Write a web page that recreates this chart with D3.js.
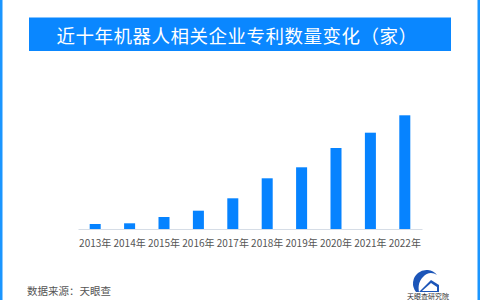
<!DOCTYPE html>
<html>
<head>
<meta charset="utf-8">
<script src="https://cdn.jsdelivr.net/npm/d3@7"></script>
<style>
  body { margin: 0; background: #fff; }
  svg { display: block; }
</style>
</head>
<body>
<div id="chart"></div>
<script>
var years = ["2013年", "2014年", "2015年", "2016年", "2017年", "2018年", "2019年", "2020年", "2021年", "2022年"];
// relative counts
var counts = [50, 57, 120, 183, 307, 507, 617, 810, 963, 1137];
var title = "近十年机器人相关企业专利数量变化（家）";
var source = "数据来源：天眼查";

var W = 480, H = 300;
var svg = d3.select("#chart").append("svg")
  .attr("width", W)
  .attr("height", H);

var font = "'Noto Sans CJK SC', 'Noto Sans', sans-serif";

// side border lines
svg.append("rect").attr("x", 0).attr("y", 0).attr("width", 2.5).attr("height", H).attr("fill", "#1a96ff");
svg.append("rect").attr("x", 477.5).attr("y", 0).attr("width", 2.5).attr("height", H).attr("fill", "#1a96ff");

// title box
svg.append("rect")
  .attr("x", 29).attr("y", 17.5)
  .attr("width", 422).attr("height", 33.5)
  .attr("fill", "#0a87ff");
svg.append("text")
  .attr("x", 237).attr("y", 34.5)
  .attr("text-anchor", "middle")
  .attr("dominant-baseline", "central")
  .attr("font-family", font)
  .attr("font-size", 18.5)
  .attr("letter-spacing", 0.5)
  .attr("fill", "white")
  .text(title);

var x = d3.scaleBand()
  .domain(years)
  .range([78, 422])
  .paddingInner(0.68)
  .paddingOuter(0.34);

var y = d3.scaleLinear()
  .domain([0, 1137])
  .range([229, 115.3]);

svg.append("g").selectAll("rect")
  .data(counts)
  .enter().append("rect")
  .attr("x", function(d, i) { return x(years[i]); })
  .attr("y", function(d) { return y(d); })
  .attr("width", x.bandwidth())
  .attr("height", function(d) { return y(0) - y(d); })
  .attr("fill", "#0683ff");

var axis = svg.append("g")
  .attr("transform", "translate(0,229)")
  .call(d3.axisBottom(x).tickSize(0).tickPadding(11));
axis.select(".domain").attr("stroke", "#d6dde6").attr("stroke-width", 1);
axis.selectAll("text")
  .attr("font-family", font)
  .attr("font-size", 10)
  .attr("fill", "#555");

svg.append("text")
  .attr("x", 27).attr("y", 290)
  .attr("dominant-baseline", "central")
  .attr("font-family", font)
  .attr("font-size", 10.5)
  .attr("fill", "#555")
  .text(source);

// logo
var logo = svg.append("g").attr("transform", "translate(427,283)");
logo.append("path")
  .attr("d", "M-11,9 A12.5,12.5 0 0 1 10,-8 C6,-11 0,-11 -4,-6 C-8,-2 -9,3 -8,9 Z")
  .attr("fill", "#1c55b8");
logo.append("path")
  .attr("d", "M-8,9 L4,-3 L12,2 L12,9 Z")
  .attr("fill", "#1c55b8");
logo.append("path")
  .attr("d", "M-5,8 L4,0 L10,4 L10,8 Z")
  .attr("fill", "#fff");
svg.append("text")
  .attr("x", 428).attr("y", 299)
  .attr("text-anchor", "middle")
  .attr("font-family", font)
  .attr("font-size", 7)
  .attr("fill", "#333")
  .text("天眼查研究院");
</script>
</body>
</html>
